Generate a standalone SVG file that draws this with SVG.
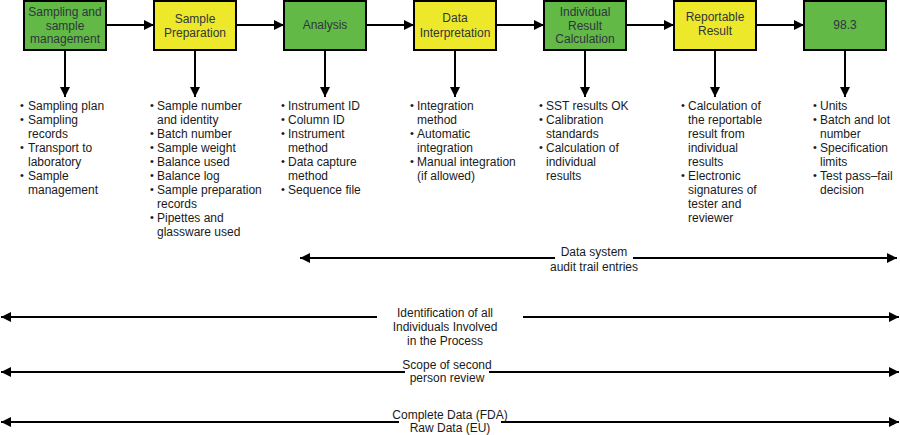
<svg xmlns="http://www.w3.org/2000/svg" width="900" height="435" viewBox="0 0 900 435">
<defs>
<marker id="ah" viewBox="0 0 10 10" refX="10" refY="5" markerWidth="10" markerHeight="10" markerUnits="userSpaceOnUse" orient="auto-start-reverse">
<path d="M0,0 L10,5 L0,10 Z" fill="#000"/>
</marker>
<style>
.box{stroke:#000;stroke-width:2}
.g{fill:#62b946}
.y{fill:#eee82a}
.bt{font-family:"Liberation Sans",Arial,sans-serif;font-size:12px;fill:#2f3640;text-anchor:middle}
.t{font-family:"Liberation Sans",Arial,sans-serif;font-size:12px;fill:#1a1a1a}
.b{font-family:"Liberation Sans",Arial,sans-serif;font-size:11px;fill:#1a1a1a}
.lab{font-family:"Liberation Sans",Arial,sans-serif;font-size:12px;fill:#1a1a1a;text-anchor:middle}
.c{stroke:#000;stroke-width:2;fill:none}
</style>
</defs>
<rect width="900" height="435" fill="#fff"/>

<g id="connectors">
<line class="c" x1="106" y1="25" x2="154" y2="25" marker-end="url(#ah)"/>
<line class="c" x1="236" y1="25" x2="284" y2="25" marker-end="url(#ah)"/>
<line class="c" x1="366" y1="25" x2="414" y2="25" marker-end="url(#ah)"/>
<line class="c" x1="496" y1="25" x2="544" y2="25" marker-end="url(#ah)"/>
<line class="c" x1="626" y1="25" x2="674" y2="25" marker-end="url(#ah)"/>
<line class="c" x1="756" y1="25" x2="804" y2="25" marker-end="url(#ah)"/>
<line class="c" x1="65" y1="50" x2="65" y2="97" marker-end="url(#ah)"/>
<line class="c" x1="195" y1="50" x2="195" y2="97" marker-end="url(#ah)"/>
<line class="c" x1="325" y1="50" x2="325" y2="97" marker-end="url(#ah)"/>
<line class="c" x1="455" y1="50" x2="455" y2="97" marker-end="url(#ah)"/>
<line class="c" x1="585" y1="50" x2="585" y2="97" marker-end="url(#ah)"/>
<line class="c" x1="715" y1="50" x2="715" y2="97" marker-end="url(#ah)"/>
<line class="c" x1="845" y1="50" x2="845" y2="97" marker-end="url(#ah)"/>
<line class="c" x1="555" y1="258" x2="300" y2="258" marker-end="url(#ah)"/>
<line class="c" x1="633" y1="258" x2="897" y2="258" marker-end="url(#ah)"/>
<line class="c" x1="377" y1="317" x2="1" y2="317" marker-end="url(#ah)"/>
<line class="c" x1="523" y1="317" x2="899" y2="317" marker-end="url(#ah)"/>
<line class="c" x1="405" y1="372" x2="1" y2="372" marker-end="url(#ah)"/>
<line class="c" x1="489" y1="372" x2="899" y2="372" marker-end="url(#ah)"/>
<line class="c" x1="399" y1="422" x2="1" y2="422" marker-end="url(#ah)"/>
<line class="c" x1="501" y1="422" x2="899" y2="422" marker-end="url(#ah)"/>
</g>

<g id="n1">
<rect class="box g" x="24" y="1" width="82" height="49"/>
<text class="bt" x="65" y="16">Sampling and</text>
<text class="bt" x="65" y="29.5">sample</text>
<text class="bt" x="65" y="43">management</text>
</g>
<g id="n2">
<rect class="box y" x="154" y="1" width="82" height="49"/>
<text class="bt" x="195" y="23">Sample</text>
<text class="bt" x="195" y="37">Preparation</text>
</g>
<g id="n3">
<rect class="box g" x="284" y="1" width="82" height="49"/>
<text class="bt" x="325" y="29">Analysis</text>
</g>
<g id="n4">
<rect class="box y" x="414" y="1" width="82" height="49"/>
<text class="bt" x="455" y="22">Data</text>
<text class="bt" x="455" y="37">Interpretation</text>
</g>
<g id="n5">
<rect class="box g" x="544" y="1" width="82" height="49"/>
<text class="bt" x="585" y="16">Individual</text>
<text class="bt" x="585" y="29.5">Result</text>
<text class="bt" x="585" y="43">Calculation</text>
</g>
<g id="n6">
<rect class="box y" x="674" y="1" width="82" height="49"/>
<text class="bt" x="715" y="21">Reportable</text>
<text class="bt" x="715" y="35">Result</text>
</g>
<g id="n7">
<rect class="box g" x="804" y="1" width="82" height="49"/>
<text class="bt" x="845" y="29">98.3</text>
</g>

<g id="list1">
<text class="b" x="20" y="109">•</text><text class="t" x="28" y="110">Sampling plan</text>
<text class="b" x="20" y="123">•</text><text class="t" x="28" y="124">Sampling</text>
<text class="t" x="28" y="138">records</text>
<text class="b" x="20" y="151">•</text><text class="t" x="28" y="152">Transport to</text>
<text class="t" x="28" y="166">laboratory</text>
<text class="b" x="20" y="179">•</text><text class="t" x="28" y="180">Sample</text>
<text class="t" x="28" y="194">management</text>
</g>
<g id="list2">
<text class="b" x="150" y="109">•</text><text class="t" x="157" y="110">Sample number</text>
<text class="t" x="157" y="124">and identity</text>
<text class="b" x="150" y="137">•</text><text class="t" x="157" y="138">Batch number</text>
<text class="b" x="150" y="151">•</text><text class="t" x="157" y="152">Sample weight</text>
<text class="b" x="150" y="165">•</text><text class="t" x="157" y="166">Balance used</text>
<text class="b" x="150" y="179">•</text><text class="t" x="157" y="180">Balance log</text>
<text class="b" x="150" y="193">•</text><text class="t" x="157" y="194">Sample preparation</text>
<text class="t" x="157" y="208">records</text>
<text class="b" x="150" y="221">•</text><text class="t" x="157" y="222">Pipettes and</text>
<text class="t" x="157" y="236">glassware used</text>
</g>
<g id="list3">
<text class="b" x="281" y="109">•</text><text class="t" x="288" y="110">Instrument ID</text>
<text class="b" x="281" y="123">•</text><text class="t" x="288" y="124">Column ID</text>
<text class="b" x="281" y="137">•</text><text class="t" x="288" y="138">Instrument</text>
<text class="t" x="288" y="152">method</text>
<text class="b" x="281" y="165">•</text><text class="t" x="288" y="166">Data capture</text>
<text class="t" x="288" y="180">method</text>
<text class="b" x="281" y="193">•</text><text class="t" x="288" y="194">Sequence file</text>
</g>
<g id="list4">
<text class="b" x="410" y="109">•</text><text class="t" x="417" y="110">Integration</text>
<text class="t" x="417" y="124">method</text>
<text class="b" x="410" y="137">•</text><text class="t" x="417" y="138">Automatic</text>
<text class="t" x="417" y="152">integration</text>
<text class="b" x="410" y="165">•</text><text class="t" x="417" y="166">Manual integration</text>
<text class="t" x="417" y="180">(if allowed)</text>
</g>
<g id="list5">
<text class="b" x="539" y="109">•</text><text class="t" x="546" y="110">SST results OK</text>
<text class="b" x="539" y="123">•</text><text class="t" x="546" y="124">Calibration</text>
<text class="t" x="546" y="138">standards</text>
<text class="b" x="539" y="151">•</text><text class="t" x="546" y="152">Calculation of</text>
<text class="t" x="546" y="166">individual</text>
<text class="t" x="546" y="180">results</text>
</g>
<g id="list6">
<text class="b" x="681" y="109">•</text><text class="t" x="688" y="110">Calculation of</text>
<text class="t" x="688" y="124">the reportable</text>
<text class="t" x="688" y="138">result from</text>
<text class="t" x="688" y="152">individual</text>
<text class="t" x="688" y="166">results</text>
<text class="b" x="681" y="179">•</text><text class="t" x="688" y="180">Electronic</text>
<text class="t" x="688" y="194">signatures of</text>
<text class="t" x="688" y="208">tester and</text>
<text class="t" x="688" y="222">reviewer</text>
</g>
<g id="list7">
<text class="b" x="813" y="109">•</text><text class="t" x="820" y="110">Units</text>
<text class="b" x="813" y="123">•</text><text class="t" x="820" y="124">Batch and lot</text>
<text class="t" x="820" y="138">number</text>
<text class="b" x="813" y="151">•</text><text class="t" x="820" y="152">Specification</text>
<text class="t" x="820" y="166">limits</text>
<text class="b" x="813" y="179">•</text><text class="t" x="820" y="180">Test pass–fail</text>
<text class="t" x="820" y="194">decision</text>
</g>

<g id="labels">
<text class="lab" x="594" y="256">Data system</text>
<text class="lab" x="594" y="271">audit trail entries</text>
<text class="lab" x="445" y="317">Identification of all</text>
<text class="lab" x="445" y="331">Individuals Involved</text>
<text class="lab" x="445" y="345">in the Process</text>
<text class="lab" x="447" y="369">Scope of second</text>
<text class="lab" x="447" y="382">person review</text>
<text class="lab" x="450" y="419">Complete Data (FDA)</text>
<text class="lab" x="450" y="432">Raw Data (EU)</text>
</g>
</svg>
